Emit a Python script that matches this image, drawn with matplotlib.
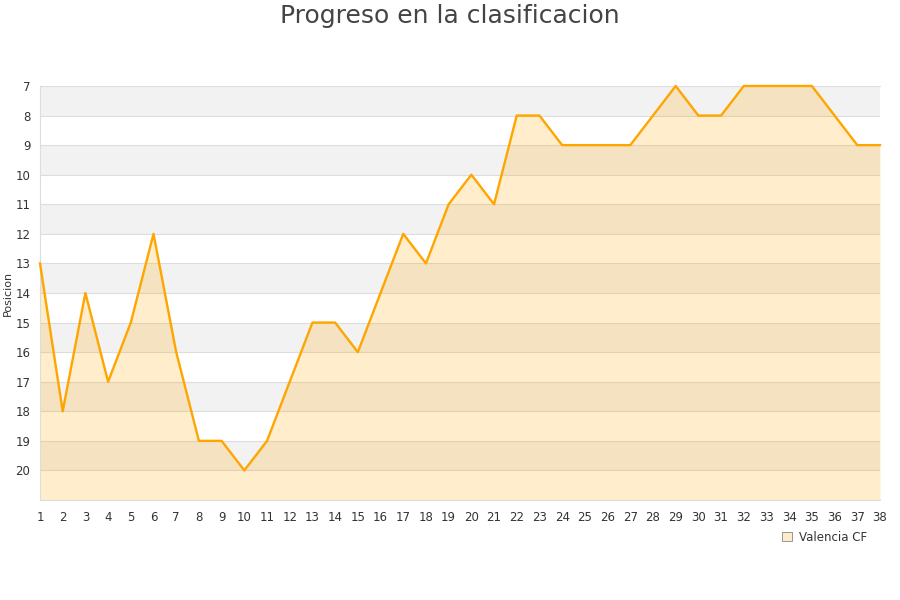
import matplotlib
matplotlib.use("Agg")
import matplotlib.pyplot as plt
from matplotlib.patches import Patch

jornadas = list(range(1, 39))
posicion = [13, 18, 14, 17, 15, 12, 16, 19, 19, 20,
            19, 17, 15, 15, 16, 14, 12, 13, 11, 10,
            11, 8, 8, 9, 9, 9, 9, 8, 7, 8,
            8, 7, 7, 7, 7, 8, 9, 9]
equipo = "Valencia CF"
y_ticks = list(range(7, 21))

ORANGE = "#FFA500"
TXT = "#333333"

plt.rcParams["font.family"] = "DejaVu Sans"
fig = plt.figure(figsize=(9, 6), dpi=100)
ax = fig.add_axes([40 / 900, 100 / 600, 840 / 900, 414 / 600])

ymin, ymax = 7, 21
# alternating bands
for k in range(ymin, ymax):
    color = "#F2F2F2" if (k - ymin) % 2 == 0 else "white"
    ax.axhspan(k, k + 1, color=color, lw=0, zorder=0)
for k in range(ymin + 1, ymax):
    ax.axhline(k, color="#DDDDDD", lw=0.8, zorder=1)

ax.fill_between(jornadas, posicion, ymax, color=ORANGE, alpha=0.2, lw=0, zorder=2)
ax.plot(jornadas, posicion, color=ORANGE, lw=1.7, zorder=3, clip_on=False)

ax.set_xlim(1, 38)
ax.set_ylim(ymax, ymin)
ax.set_xticks(jornadas)
ax.set_yticks(y_ticks)
ax.tick_params(length=0, labelsize=8.5, colors=TXT)
ax.tick_params(axis="x", pad=8)
ax.tick_params(axis="y", pad=7)
ax.spines["right"].set_visible(False)
for s in ["left", "bottom", "top"]:
    ax.spines[s].set_color("#DDDDDD")
    ax.spines[s].set_linewidth(0.8)

ax.set_ylabel("Posicion", fontsize=8, color=TXT, labelpad=2)

fig.text(0.5, 0.993, "Progreso en la clasificacion", ha="center", va="top",
         fontsize=18, color="#444444")

handle = Patch(facecolor="#FEEBC8", edgecolor="#888888", lw=0.6)
fig.legend([handle], [equipo], loc="upper right", bbox_to_anchor=(0.975, 0.133),
           frameon=False, fontsize=8.5, handlelength=0.8, handleheight=0.8,
           handletextpad=0.6, labelcolor=TXT)

fig.savefig("out.png", dpi=100)
